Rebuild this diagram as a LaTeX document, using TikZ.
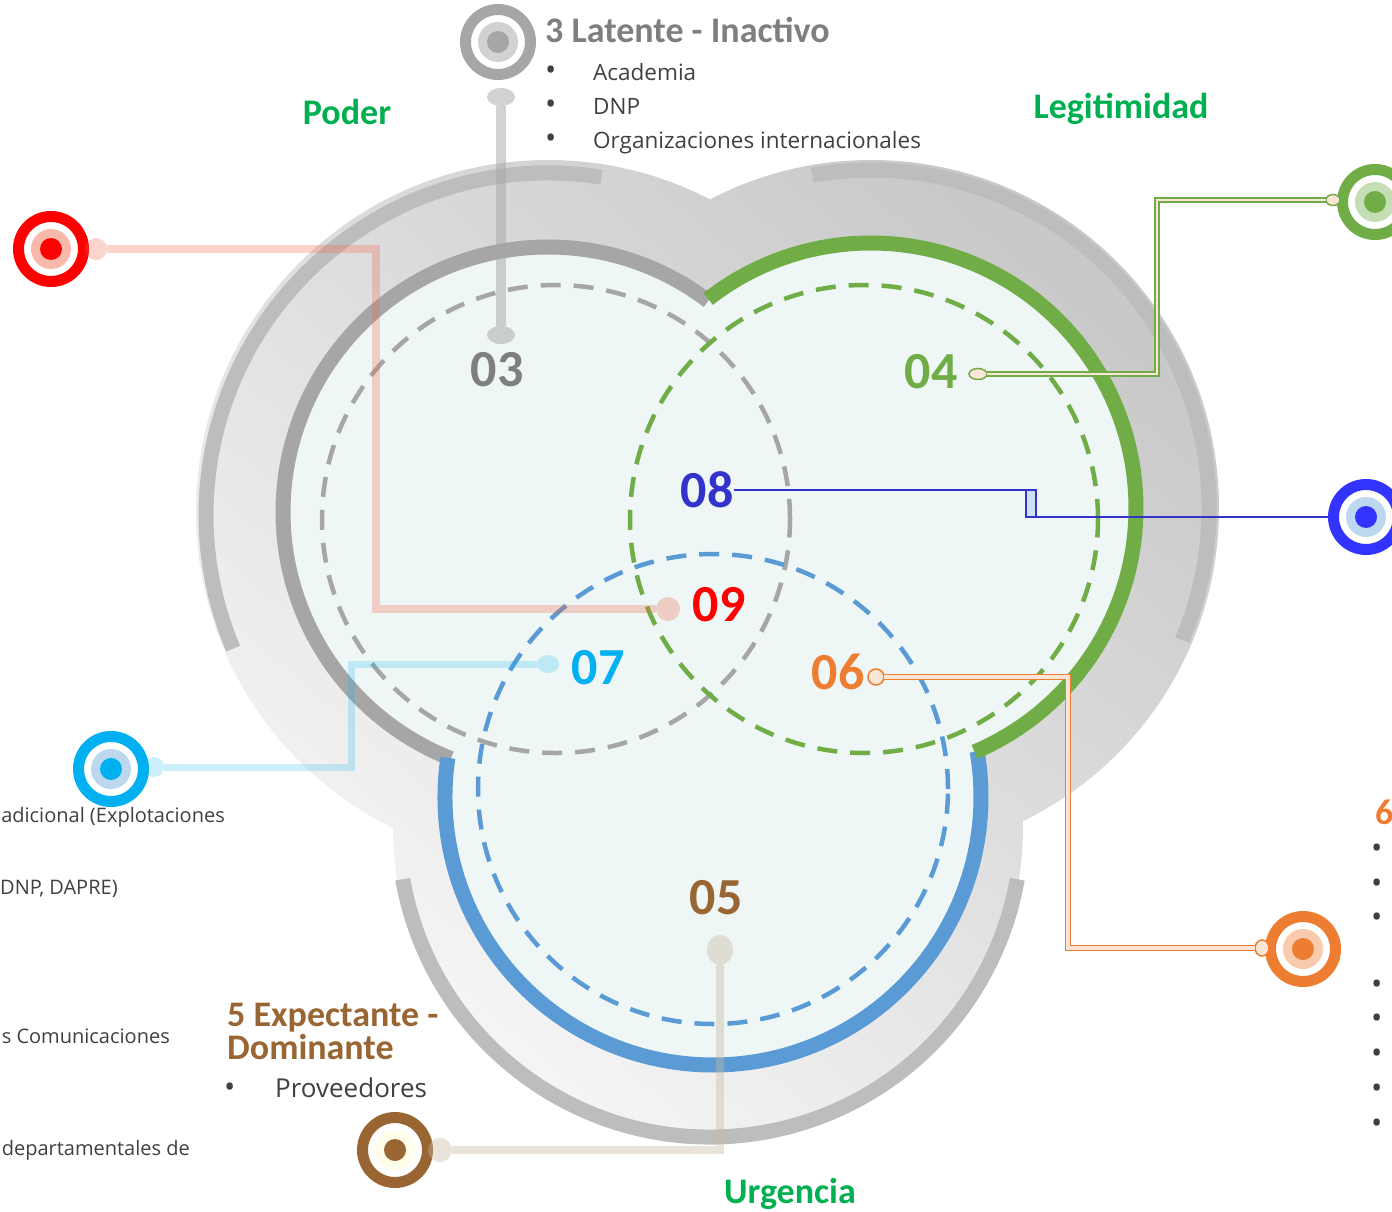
\documentclass[tikz,border=0pt]{standalone}
\usepackage{fontspec}
\setmainfont{Open Sans}
\newfontfamily\carlfont{Carlito}
\usetikzlibrary{shapes.geometric}

\definecolor{poder}{HTML}{A6A6A6}
\definecolor{legit}{HTML}{70AD47}
\definecolor{urg}{HTML}{5B9BD5}
\definecolor{titgreen}{HTML}{00B050}
\definecolor{pale}{HTML}{EEF7F6}
\definecolor{bandgray}{HTML}{BDBDBD}
\definecolor{txtgray}{HTML}{7F7F7F}
\definecolor{bodygray}{HTML}{404040}
\definecolor{c08}{HTML}{3333CC}
\definecolor{m08}{HTML}{3333FF}
\definecolor{c07}{HTML}{00B0F0}
\definecolor{c06}{HTML}{ED7D31}
\definecolor{c05}{HTML}{996633}
\definecolor{c09}{HTML}{FF0000}
\definecolor{salmon}{HTML}{F06446}
\definecolor{tan}{HTML}{C8B8A0}
\definecolor{cream}{HTML}{FBE5D6}

\tikzset{
  target/.style={circle, draw=#1, line width=11pt, minimum size=65pt, fill=white, inner sep=0pt}
}

\begin{document}
\begin{tikzpicture}[x=1pt,y=1pt,
  num/.style={font=\carlfont\bfseries\fontsize{52}{52}\selectfont, inner sep=0pt},
  head/.style={font=\carlfont\bfseries\fontsize{36}{34}\selectfont, inner sep=0pt, anchor=base west},
  zone/.style={font=\carlfont\bfseries\fontsize{36}{36}\selectfont, text=titgreen, inner sep=0pt, anchor=base},
  item/.style={font=\fontsize{20}{24}\selectfont, text=bodygray, inner sep=0pt, anchor=base west},
  bullet/.style={font=\fontsize{30}{30}\selectfont, text=bodygray, inner sep=0pt, anchor=base west},
  ring/.style={line width=15pt},
  band/.style={line width=15pt, draw=bandgray},
  dashring/.style={dash pattern=on 20pt off 13pt, line width=4.5pt},
  enddot/.style={inner sep=0pt, outer sep=0pt},
  lk03/.style={line width=10pt, draw=poder, draw opacity=.5},
  lk09/.style={line width=8pt, draw=salmon, draw opacity=.28},
  lk07/.style={line width=7pt, draw=c07, draw opacity=.2},
  lk05/.style={line width=8pt, draw=tan, draw opacity=.4},
  lk08/.style={line width=2.5pt, draw=c08},
  lk04/.style={line width=1.5pt, draw=legit, double=cream, double distance=2.5pt},
  lk06/.style={line width=1.5pt, draw=c06, double=cream, double distance=3.5pt}]
\useasboundingbox (0,0) rectangle (1392,-1212);

% outer grey body
\shade[top color=gray!42, bottom color=gray!6, shading angle=-40]
  (548,-512) circle (352) (871,-508) circle (348) (708,-828) circle (315);
\draw[band] (548,-515) ++(81:342) arc[start angle=81, end angle=203, radius=342];
\draw[band] (871,-508) ++(-23:338) arc[start angle=-23, end angle=100, radius=338];
\draw[band] (710,-825) ++(190:312) arc[start angle=190, end angle=350, radius=312];

% the three sets
\fill[pale] (548,-512) circle (265) (871,-508) circle (265) (713,-797) circle (268);
\draw[ring, poder] (548,-512) ++(52.8:265) arc[start angle=52.8, end angle=248.5, radius=265];
\draw[ring, urg] (713,-797) ++(171.6:268) arc[start angle=171.6, end angle=369.8, radius=268];
\draw[ring, legit] (871,-508) ++(127.9:265) arc[start angle=127.9, end angle=-67, radius=265];

\draw[dashring, poder] (556,-519) circle (234);
\draw[dashring, legit] (864,-519) circle (234);
\draw[dashring, urg] (713,-789) circle (235);

% zone numbers
\node[num, text=txtgray] (l03) at (497,-370) {03};
\node[num, text=legit] (l04) at (931,-372) {04};
\node[num, text=c08] (l08) at (707,-490) {08};
\node[num, text=c09] (l09) at (719,-605) {09};
\node[num, text=c07] (l07) at (598,-668) {07};
\node[num, text=c06] (l06) at (838,-672) {06};
\node[num, text=c05] (l05) at (716,-898) {05};

\node[zone] (poder) at (347,-125) {Poder};
\node[zone] (legitimidad) at (1121,-119) {Legitimidad};
\node[zone] (urgencia) at (790,-1203) {Urgencia};

% targets
\node[target=poder] (m03) at (498,-42) {};
\node[target=c09] (m09) at (51,-249) {};
\node[target=legit] (m04) at (1375,-202) {};
\node[target=m08] (m08) at (1366,-517) {};
\node[target=c07] (m07) at (111,-769) {};
\node[target=c06] (m06) at (1303,-949) {};
\node[target=c05] (m05) at (395,-1150) {};
\foreach \m/\cm/\cl in {m03/poder/gray!35, m09/c09/salmon!45, m04/legit/legit!40, m08/m08/urg!40,
                        m07/c07/urg!40, m06/c06/c06!40, m05/c05/yellow!8} {
  \fill[\cl] (\m) circle (20);
  \fill[\cm] (\m) circle (11);
}

% end dots
\node[enddot, ellipse, minimum width=28pt, minimum height=18pt, fill=poder, fill opacity=.5] (d03a) at (501,-97) {};
\node[enddot, ellipse, minimum width=28pt, minimum height=18pt, fill=poder, fill opacity=.5] (d03b) at (501,-335) {};
\node[enddot, circle, minimum size=24pt, fill=salmon, fill opacity=.28] (d09) at (668,-609) {};
\node[enddot, circle, minimum size=22pt, fill=salmon, fill opacity=.28] (e09) at (96,-249) {};
\node[enddot, ellipse, minimum width=22pt, minimum height=18pt, fill=c07, fill opacity=.2] (d07) at (548,-664) {};
\node[enddot, circle, minimum size=20pt, fill=c07, fill opacity=.2] (e07) at (154,-767) {};
\node[enddot, ellipse, minimum width=26pt, minimum height=30pt, fill=tan, fill opacity=.4] (d05) at (720,-950) {};
\node[enddot, circle, minimum size=24pt, fill=tan, fill opacity=.4] (e05) at (440,-1150) {};
\node[enddot, ellipse, minimum width=18pt, minimum height=11pt, fill=cream, draw=legit, line width=1.5pt] (d04) at (978,-374) {};
\node[enddot, ellipse, minimum width=14pt, minimum height=11pt, fill=cream, draw=legit, line width=1.5pt] (e04) at (1333,-200) {};
\node[enddot, circle, minimum size=16pt, fill=cream, draw=c06, line width=1.5pt] (d06) at (876,-677) {};
\node[enddot, ellipse, minimum width=14pt, minimum height=16pt, fill=cream, draw=c06, line width=1.5pt] (e06) at (1262,-948) {};

% connectors
\draw[lk03] (d03a) -- (d03b);
\draw[lk09] (e09) -- (376,-249) |- (d09);
\draw[lk07] (e07) -- (351,-767) |- (d07);
\draw[lk05] (d05) |- (e05);
\draw[lk04] (d04) -- (1157,-374) |- (e04);
\draw[lk06] (d06) -- (1068,-677) |- (e06);
\fill[urg!30] (1026,-490) rectangle (1036,-517);
\draw[lk08] (l08.east) -- (1036,-490) -- (1036,-517) -- (1026,-517) -- (1026,-490);
\draw[lk08] (1026,-517) -- (m08);

% stakeholder texts
\node[head, text=txtgray] (t03) at (545,-43) {3 Latente - Inactivo};
\foreach \txt [count=\i] in {Academia, DNP, Organizaciones internacionales} {
  \node[bullet] (b03\i) at (545,-47-34*\i) {•};
  \node[item, font=\fontsize{22.5}{26}\selectfont] (i03\i) at (593,-47-34*\i) {\txt};
}
\node[head, text=c05] (t05a) at (227,-1026) {5 Expectante -};
\node[head, text=c05] (t05b) at (227,-1059) {Dominante};
\node[bullet] (b051) at (224,-1097) {•};
\node[item, font=\fontsize{26}{30}\selectfont] (i051) at (275,-1097) {Proveedores};

\node[item, anchor=base east] (x1) at (225,-822) {adicional (Explotaciones};
\node[item] (x2) at (0,-894) {DNP, DAPRE)};
\node[item, anchor=base east] (x3) at (170,-1043) {s Comunicaciones};
\node[item, anchor=base east] (x4) at (190,-1155) {departamentales de};

\node[head, text=c06] (t06) at (1375,-824) {6};
\foreach \y [count=\i] in {858,893,927,994,1028,1063,1098,1133}
  \node[bullet] (b06\i) at (1371,-\y) {•};
\end{tikzpicture}
\end{document}
